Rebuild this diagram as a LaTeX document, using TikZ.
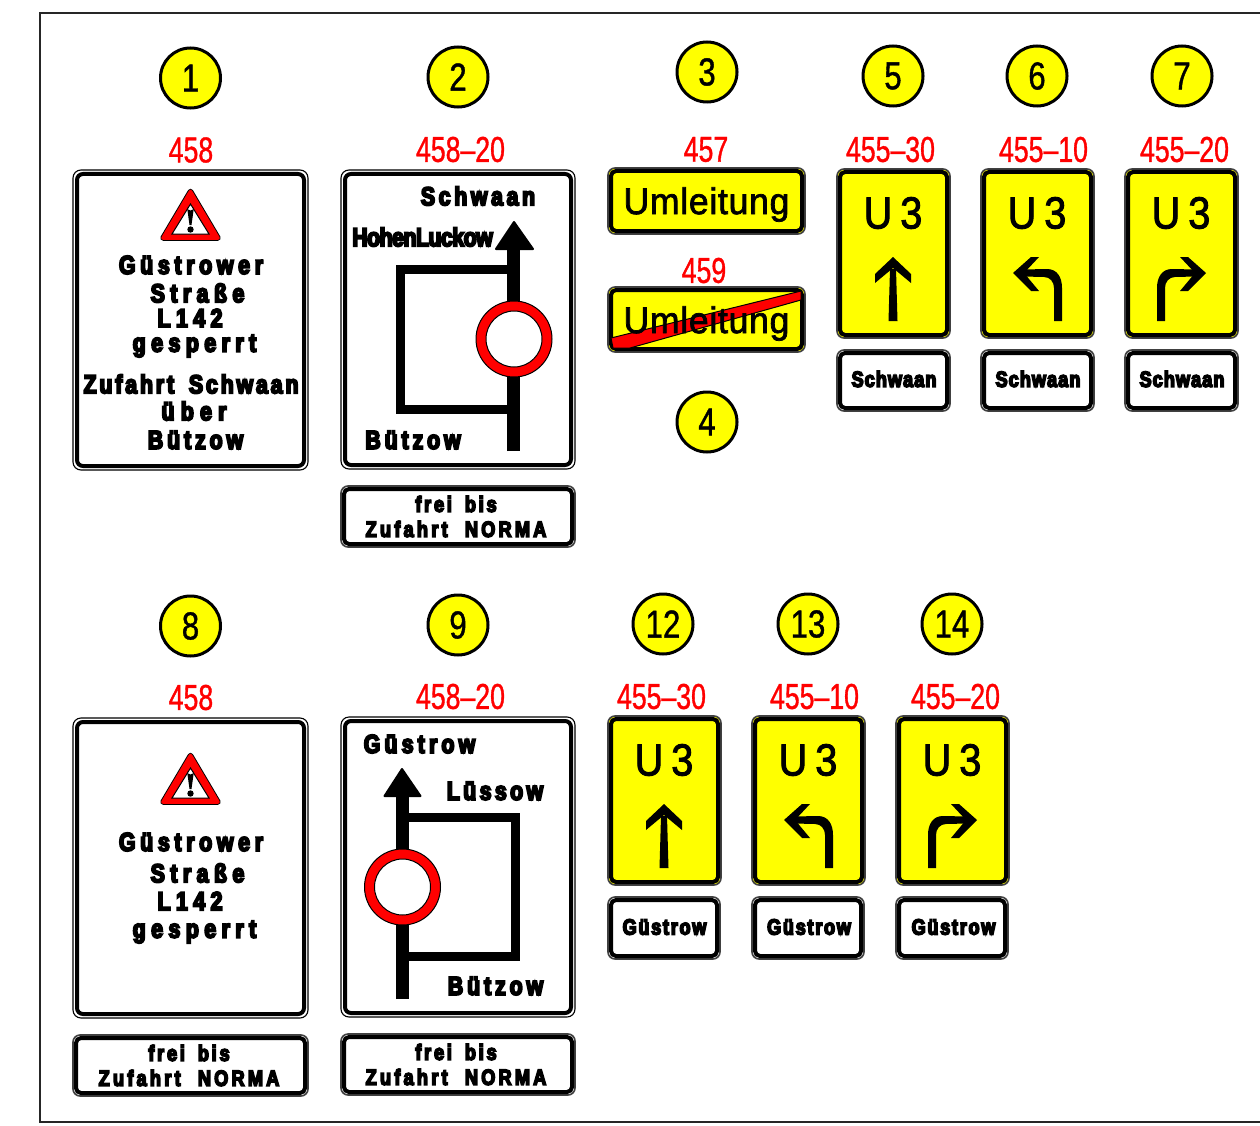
\documentclass[tikz,border=0pt]{standalone}
\usepackage{fontspec}
\newfontfamily\sgnfont[FakeStretch=0.82,FakeBold=7]{Liberation Sans Bold}
\newfontfamily\narrowfont[FakeStretch=0.74,FakeBold=1]{Liberation Sans}
\newfontfamily\circfont[FakeStretch=0.8,FakeBold=1]{Liberation Sans}
\newfontfamily\umfont[FakeStretch=0.96,FakeBold=2,LetterSpace=2]{Liberation Sans}
\newfontfamily\ufont[FakeStretch=0.88,FakeBold=2]{Liberation Sans}
\definecolor{ylw}{HTML}{FFFF00}
\definecolor{rd}{HTML}{FF0000}
\tikzset{
  txt/.style={inner sep=0pt,outer sep=0pt,anchor=center},
  numcirc/.style={circle,draw=black,line width=3pt,fill=ylw,minimum size=60pt,inner sep=0pt,font=\circfont\fontsize{39}{39}\selectfont},
  codelabel/.style={txt,text=rd,font=\narrowfont\fontsize{36}{36}\selectfont},
  road/.style={line width=9pt,draw=black,line join=miter,line cap=butt},
  roadmain/.style={line width=13pt,draw=black,line cap=butt},
  ringst/.style={circle,draw=black,line width=1pt,fill=rd,minimum size=76pt,inner sep=0pt},
  ringin/.style={circle,draw=black,line width=1pt,fill=white,minimum size=56pt,inner sep=0pt},
}
% bold spaced lettering: x, y, tracking, size, text
\newcommand{\sgn}[5]{\node[txt] (s-#1-#2) at (#1,#2) {\sgnfont\fontsize{#4}{#4}\selectfont\addfontfeature{LetterSpace=#3}#5};}
% large white panel with white gap
\newcommand{\bigplate}[4]{%
  \draw[line width=1.1pt,rounded corners=8pt,fill=white] (#1,#2) rectangle (#3,#4);
  \draw[line width=4pt,rounded corners=6pt,fill=white] ({#1+4},{#2+4}) rectangle ({#3-4},{#4-4});}
% small panel with dense border
\newcommand{\smallplate}[5]{%
  \draw[line width=1.6pt,draw=black!75,rounded corners=7pt,fill=#5] (#1,#2) rectangle (#3,#4);
  \draw[line width=4pt,rounded corners=5pt,fill=#5] ({#1+3},{#2+3}) rectangle ({#3-3},{#4-3});}
\newcommand{\warntri}[1]{%
  \fill[black,draw=black,line join=round,line width=5.5pt] (190.5,{#1+3.5}) -- (163,{#1+50}) -- (218,{#1+50}) -- cycle;
  \fill[rd,draw=rd,line join=round,line width=3.6pt] (190.5,{#1+3.5}) -- (163,{#1+50}) -- (218,{#1+50}) -- cycle;
  \draw[black,fill=white,line width=1pt] (190.5,{#1+16}) -- (172,{#1+46}) -- (209,{#1+46}) -- cycle;
  \fill[black] (187,{#1+19}) arc[start angle=180,end angle=0,radius=3.5] -- (191.5,{#1+37}) -- (189.5,{#1+37}) -- cycle;
  \fill[black] (190.5,{#1+41.5}) circle[radius=3.2];}
% yellow sign body with U3
\newcommand{\uthree}[2]{% left x, top y
  \smallplate{#1}{#2}{#1+113}{#2+169}{ylw}
  \node[txt] (u-#1-#2) at ({#1+56},{#2+44}) {\ufont\fontsize{45}{45}\selectfont U\hspace{8pt}3};}
\newcommand{\upstraight}[2]{\begin{scope}[shift={(#1,#2)}]
  \fill[black] (-4.5,64) -- (-3,12) -- (3,12) -- (4.5,64) -- cycle;
  \fill[black] (0,0) -- (18,17) -- (18,26) -- (0,11) -- (-18,26) -- (-18,17) -- cycle;
\end{scope}}
\newcommand{\turnarrow}{%
  \fill[black] (33,64) -- (41,64) -- (41,31) .. controls (41,20) and (36,12) .. (26,12) -- (2,12.5) -- (2,19.5) -- (23,20) .. controls (29,20) and (33,25) .. (33,31) -- cycle;
  \fill[black] (-8,16) -- (10,0) -- (18,0) -- (3,16) -- (18,34) -- (10,34) -- cycle;}
\newcommand{\upleft}[2]{\begin{scope}[shift={(#1,#2)}]\turnarrow\end{scope}}
\newcommand{\upright}[2]{\begin{scope}[shift={(#1,#2)},xscale=-1]\turnarrow\end{scope}}
\begin{document}
\begin{tikzpicture}[x=1pt,y=-1pt]
\useasboundingbox (0,0) rectangle (1260,1126);
\draw[line width=1.2pt,black!85] (1260,13) -- (40,13) -- (40,1122) -- (1260,1122);

% number circles
\node[numcirc] (c1) at (190.5,78) {1};
\node[numcirc] (c2) at (458,77) {2};
\node[numcirc] (c3) at (707,72) {3};
\node[numcirc] (c4) at (707,422) {4};
\node[numcirc] (c5) at (893,76) {5};
\node[numcirc] (c6) at (1037,76) {6};
\node[numcirc] (c7) at (1182,76) {7};
\node[numcirc] (c8) at (190.5,626) {8};
\node[numcirc] (c9) at (458,625) {9};
\node[numcirc] (c12) at (663,624) {12};
\node[numcirc] (c13) at (808,624) {13};
\node[numcirc] (c14) at (952,624) {14};

% code labels
\node[codelabel] (l1) at (191,150) {458};
\node[codelabel] (l2) at (460.5,149.5) {458–20};
\node[codelabel] (l3) at (706,149.5) {457};
\node[codelabel] (l4) at (704,270.5) {459};
\node[codelabel] (l5) at (890.5,149.5) {455–30};
\node[codelabel] (l6) at (1043.5,149.5) {455–10};
\node[codelabel] (l7) at (1184.5,149.5) {455–20};
\node[codelabel] (l8) at (191,697.5) {458};
\node[codelabel] (l9) at (460.5,696.5) {458–20};
\node[codelabel] (l12) at (661.5,696.5) {455–30};
\node[codelabel] (l13) at (814.5,696.5) {455–10};
\node[codelabel] (l14) at (955.5,696.5) {455–20};

% sign 1
\bigplate{73}{170}{308}{470}
\warntri{188}
\sgn{191}{265}{18}{26}{Güstrower}
\sgn{197.5}{293}{21}{26}{Straße}
\sgn{190}{318}{21}{26}{L142}
\sgn{194.5}{346}{21}{26}{gesperrt}
\sgn{191}{384}{11}{26}{Zufahrt\hspace{6pt} Schwaan}
\sgn{194}{411}{24}{26}{über}
\sgn{195.5}{440}{15}{26}{Bützow}

% sign 2
\bigplate{341}{170}{575}{469}
\draw[road] (513,269.5) -- (400.5,269.5) -- (400.5,409.5) -- (513,409.5);
\draw[roadmain] (513.5,451) -- (513.5,245);
\fill[black,draw=black,line join=round,line width=2pt] (514,222) -- (533,249) -- (496,249) -- cycle;
\node[ringst] (r2o) at (514,339) {};
\node[ringin] (r2i) at (514,339) {};
\sgn{478}{196}{14}{26}{Schwaan}
\sgn{422.5}{237}{-2}{26}{HohenLuckow}
\sgn{413}{440}{15}{26}{Bützow}
\smallplate{341}{486}{575}{547}{white}
\sgn{456}{504}{13}{22}{frei\hspace{5pt} bis}
\sgn{456}{529}{15}{22}{Zufahrt\hspace{9pt} NORMA}

% signs 457, 459
\smallplate{608}{168}{805}{234}{ylw}
\node[txt] (u457) at (706.5,204.5) {\umfont\fontsize{37}{37}\selectfont Umleitung};
\smallplate{608}{287}{805}{352}{ylw}
\draw[black,fill=rd,line width=1pt] (611,338) -- (801,291) -- (801,300) -- (630,348) -- (613,348) -- cycle;
\node[txt] (u459) at (706.5,323.5) {\umfont\fontsize{37}{37}\selectfont Umleitung};

% U3 column, row 1
\uthree{837}{169}
\upstraight{893}{257}
\smallplate{837}{350}{950}{411}{white}
\sgn{894}{379}{5}{22}{Schwaan}

\uthree{981}{169}
\upleft{1021}{257}
\smallplate{981}{350}{1094}{411}{white}
\sgn{1038}{379}{5}{22}{Schwaan}

\uthree{1125}{169}
\upright{1198}{257}
\smallplate{1125}{350}{1238}{411}{white}
\sgn{1182}{379}{5}{22}{Schwaan}

% sign 8
\bigplate{73}{718}{308}{1018}
\warntri{752}
\sgn{191}{842}{18}{26}{Güstrower}
\sgn{197.5}{873}{21}{26}{Straße}
\sgn{190}{901}{21}{26}{L142}
\sgn{194.5}{932}{21}{26}{gesperrt}
\smallplate{73}{1035}{308}{1096}{white}
\sgn{189}{1053}{13}{22}{frei\hspace{5pt} bis}
\sgn{189}{1078}{15}{22}{Zufahrt\hspace{9pt} NORMA}

% sign 9
\bigplate{341}{717}{575}{1017}
\draw[road] (402,817.5) -- (515.5,817.5) -- (515.5,956.5) -- (402,956.5);
\draw[roadmain] (402.5,999) -- (402.5,792);
\fill[black,draw=black,line join=round,line width=2pt] (402,769) -- (420.5,796) -- (384.5,796) -- cycle;
\node[ringst] (r9o) at (402.5,887) {};
\node[ringin] (r9i) at (402.5,887) {};
\sgn{419.5}{744}{16}{26}{Güstrow}
\sgn{495}{791}{13}{26}{Lüssow}
\sgn{495.5}{986}{15}{26}{Bützow}
\smallplate{341}{1034}{575}{1095}{white}
\sgn{456}{1052}{13}{22}{frei\hspace{5pt} bis}
\sgn{456}{1077}{15}{22}{Zufahrt\hspace{9pt} NORMA}

% U3 column, row 2
\uthree{608}{716}
\upstraight{664}{804}
\smallplate{608}{897}{720}{959}{white}
\sgn{664.5}{927}{8}{22}{Güstrow}

\uthree{752}{716}
\upleft{792}{804}
\smallplate{752}{897}{864}{959}{white}
\sgn{809}{927}{8}{22}{Güstrow}

\uthree{896}{716}
\upright{969}{804}
\smallplate{896}{897}{1008}{959}{white}
\sgn{953.5}{927}{8}{22}{Güstrow}
\end{tikzpicture}
\end{document}
